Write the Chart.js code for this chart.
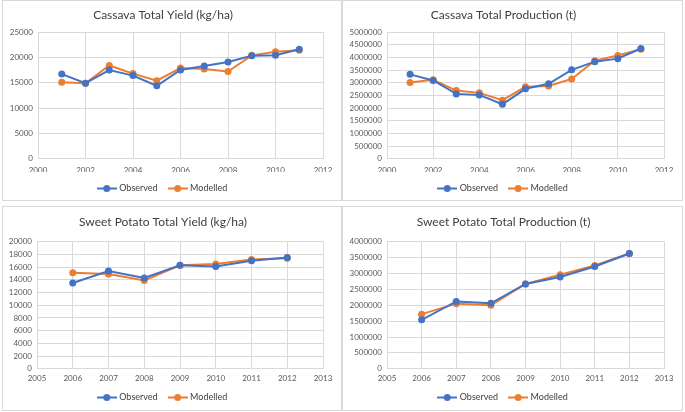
<!DOCTYPE html>
<html>
<head>
<meta charset="utf-8">
<script src="https://cdn.jsdelivr.net/npm/chart.js@4.4.0/dist/chart.umd.min.js"></script>
<style>
  html, body { margin: 0; padding: 0; background: #fff; }
  body { width: 685px; height: 412px; position: relative; overflow: hidden; }
  .box { position: absolute; border: 1px solid #d9d9d9; box-sizing: border-box; }
  .box canvas { position: absolute; left: 0; top: 0; }
</style>
</head>
<body>
<div class="box" style="left:2px;top:0px;width:340px;height:201px;"><canvas id="c1"></canvas></div>
<div class="box" style="left:342px;top:0px;width:341px;height:201px;"><canvas id="c2"></canvas></div>
<div class="box" style="left:2px;top:206px;width:340px;height:205px;"><canvas id="c3"></canvas></div>
<div class="box" style="left:342px;top:206px;width:341px;height:205px;"><canvas id="c4"></canvas></div>
<script>
// cassava, 2001-2011
const cassavaYears = [2001, 2002, 2003, 2004, 2005, 2006, 2007, 2008, 2009, 2010, 2011];
const cassavaYieldObs = [16700, 14900, 17500, 16400, 14400, 17500, 18300, 19100, 20300, 20400, 21600];
const cassavaYieldMod = [15100, 14900, 18400, 16800, 15400, 17900, 17700, 17200, 20400, 21100, 21400];
const cassavaProdObs = [3330000, 3090000, 2560000, 2520000, 2150000, 2760000, 2960000, 3510000, 3830000, 3950000, 4350000];
const cassavaProdMod = [3010000, 3120000, 2690000, 2600000, 2310000, 2840000, 2870000, 3150000, 3870000, 4070000, 4320000];

// sweet potato, 2006-2012
const spYears = [2006, 2007, 2008, 2009, 2010, 2011, 2012];
const spYieldObs = [13500, 15400, 14300, 16300, 16100, 17000, 17500];
const spYieldMod = [15100, 14900, 13900, 16300, 16500, 17200, 17400];
const spProdObs = [1540000, 2120000, 2060000, 2670000, 2890000, 3220000, 3630000];
const spProdMod = [1720000, 2050000, 2000000, 2670000, 2960000, 3250000, 3630000];

const seriesNames = ['Observed', 'Modelled'];
const blue = '#4472C4';
const orange = '#ED7D31';
const fontFam = 'Lato, "Open Sans", sans-serif';

// line + dot marker, like the excel legend
function legendIcon(color) {
    const c = document.createElement('canvas');
    c.width = 20; c.height = 9;
    const g = c.getContext('2d');
    g.strokeStyle = color;
    g.lineWidth = 2;
    g.beginPath(); g.moveTo(0, 4.5); g.lineTo(20, 4.5); g.stroke();
    g.fillStyle = color;
    g.beginPath(); g.arc(10, 4.5, 3.5, 0, Math.PI * 2); g.fill();
    return c;
}
const icons = [legendIcon(blue), legendIcon(orange)];

function pairs(xs, ys) {
    return xs.map((x, i) => ({ x: x, y: ys[i] }));
}

function makeChart(id, w, h, title, xs, obs, mod, xr, yr, lay) {
    const cv = document.getElementById(id);
    cv.width = w; cv.height = h;
    cv.style.width = w + 'px'; cv.style.height = h + 'px';
    return new Chart(cv, {
        type: 'line',
        data: {
            datasets: [
                { label: seriesNames[0], data: pairs(xs, obs), borderColor: blue, backgroundColor: blue,
                  borderWidth: 2, pointRadius: 3.5, pointBorderWidth: 0, tension: 0 },
                { label: seriesNames[1], data: pairs(xs, mod), borderColor: orange, backgroundColor: orange,
                  borderWidth: 2, pointRadius: 3.5, pointBorderWidth: 0, tension: 0 }
            ]
        },
        options: {
            responsive: false,
            animation: false,
            layout: { padding: { left: 0, right: 18, top: 0, bottom: 0 } },
            plugins: {
                title: {
                    display: true, text: title, color: '#404040',
                    font: { family: fontFam, size: 12, weight: 'normal' },
                    padding: { top: lay.titleTop, bottom: lay.titleBottom }
                },
                legend: {
                    position: 'bottom',
                    labels: {
                        color: '#404040',
                        font: { family: fontFam, size: 9 },
                        usePointStyle: true, pointStyleWidth: 16, boxHeight: 9,
                        padding: 12,
                        generateLabels: function (chart) {
                            const items = Chart.defaults.plugins.legend.labels.generateLabels(chart);
                            items.forEach((it, i) => { it.pointStyle = icons[i]; });
                            return items;
                        }
                    }
                },
                tooltip: { enabled: false }
            },
            scales: {
                x: {
                    type: 'linear', min: xr[0], max: xr[1],
                    ticks: { stepSize: xr[2], autoSkip: false, maxRotation: 0, color: '#595959',
                             font: { family: fontFam, size: 8 }, padding: lay.xPad, callback: v => String(v) },
                    grid: { color: '#d9d9d9', drawTicks: false },
                    border: { color: '#d9d9d9' },
                    afterFit: function (scale) { scale.height = lay.xHeight; }
                },
                y: {
                    min: yr[0], max: yr[1],
                    ticks: { stepSize: yr[2], autoSkip: false, color: '#595959',
                             font: { family: fontFam, size: 8 }, padding: 5, callback: v => String(v) },
                    grid: { color: '#d9d9d9', drawTicks: false },
                    border: { color: '#d9d9d9' },
                    afterFit: function (scale) { scale.width = lay.yWidth; }
                }
            }
        }
    });
}

const topLay = { titleTop: 6.8, titleBottom: 9.8, xPad: 6.5, xHeight: 13.2 };
const botLay = { titleTop: 8.3, titleBottom: 12, xPad: 5, xHeight: 12.2 };

makeChart('c1', 338, 202, 'Cassava Total Yield (kg/ha)', cassavaYears, cassavaYieldObs, cassavaYieldMod,
          [2000, 2012, 2], [0, 25000, 5000], Object.assign({ yWidth: 35 }, topLay));
makeChart('c2', 339, 202, 'Cassava Total Production (t)', cassavaYears, cassavaProdObs, cassavaProdMod,
          [2000, 2012, 2], [0, 5000000, 500000], Object.assign({ yWidth: 44 }, topLay));
makeChart('c3', 338, 205, 'Sweet Potato Total Yield (kg/ha)', spYears, spYieldObs, spYieldMod,
          [2005, 2013, 1], [0, 20000, 2000], Object.assign({ yWidth: 34 }, botLay));
makeChart('c4', 339, 205, 'Sweet Potato Total Production (t)', spYears, spProdObs, spProdMod,
          [2005, 2013, 1], [0, 4000000, 500000], Object.assign({ yWidth: 44 }, botLay));
</script>
</body>
</html>
